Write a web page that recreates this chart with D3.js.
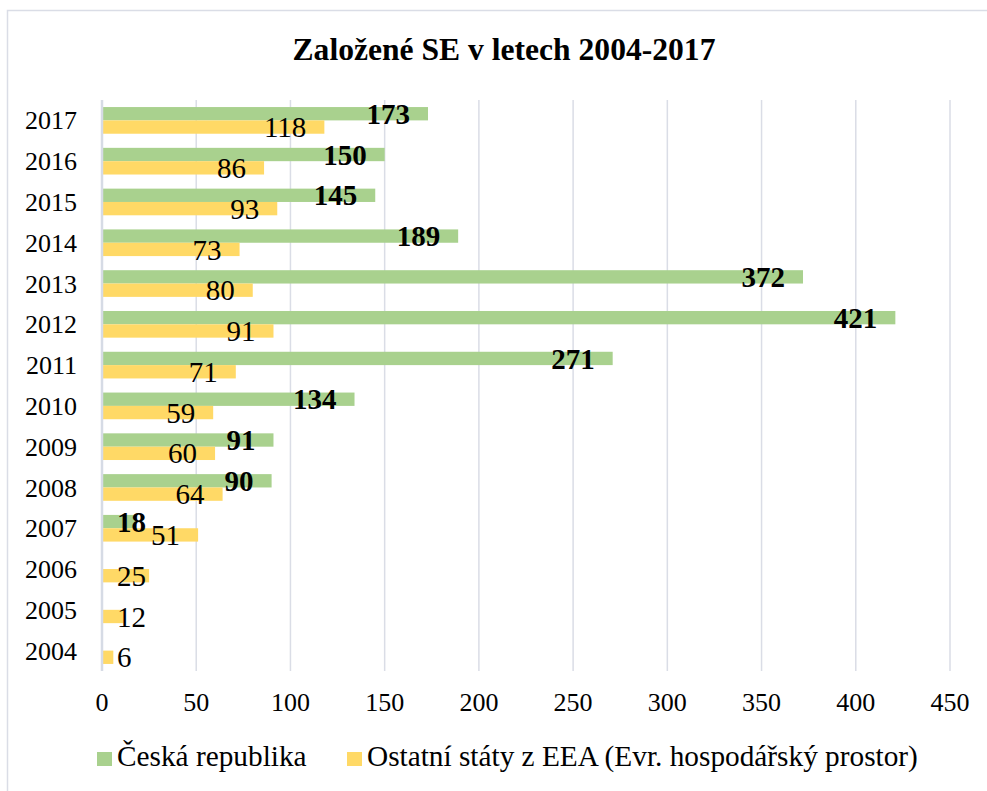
<!DOCTYPE html>
<html>
<head>
<meta charset="utf-8">
<script src="https://cdn.jsdelivr.net/npm/d3@7"></script>
<style>
  body { margin: 0; background: #fff; }
  svg { display: block; font-family: "Liberation Serif", "Times New Roman", serif; }
</style>
</head>
<body>
<div id="chart"></div>
<script>
// data
const years = [2004, 2005, 2006, 2007, 2008, 2009, 2010, 2011, 2012, 2013, 2014, 2015, 2016, 2017];
const czech = [null, null, null, 18, 90, 91, 134, 271, 421, 372, 189, 145, 150, 173];
const eea = [6, 12, 25, 51, 64, 60, 59, 71, 91, 80, 73, 93, 86, 118];
const xTicks = [0, 50, 100, 150, 200, 250, 300, 350, 400, 450];
const seriesNames = ["Česká republika", "Ostatní státy z EEA (Evr. hospodářský prostor)"];
const colors = ["#a9d18e", "#ffd966"];

const width = 987, height = 791;
const margin = { top: 100, right: 37, bottom: 120, left: 102 };

const svg = d3.select("#chart").append("svg")
  .attr("width", width)
  .attr("height", height);

// chart frame
svg.append("rect")
  .attr("x", 7.5).attr("y", 10.5)
  .attr("width", width + 20).attr("height", height + 20)
  .attr("fill", "#fff")
  .attr("stroke", "#dadde6")
  .attr("stroke-width", 1.5);

// title
svg.append("text")
  .attr("x", 504).attr("y", 60)
  .attr("text-anchor", "middle")
  .style("font-size", "31.6px")
  .style("font-weight", "bold")
  .text("Založené SE v letech 2004-2017");

const x = d3.scaleLinear()
  .domain([0, 450])
  .range([margin.left, width - margin.right]);

// 2017 nahoře
const y = d3.scaleBand()
  .domain(years.slice().reverse())
  .range([margin.top, height - margin.bottom])
  .paddingInner(0.346)
  .paddingOuter(0.173);

const sub = d3.scaleBand()
  .domain([0, 1])
  .range([0, y.bandwidth()]);

// grid lines
svg.append("g")
  .selectAll("line")
  .data(xTicks.slice(1))
  .join("line")
  .attr("x1", d => x(d)).attr("x2", d => x(d))
  .attr("y1", margin.top).attr("y2", height - margin.bottom)
  .attr("stroke", "#dadde6")
  .attr("stroke-width", 1.5);

// x tick labels
svg.append("g")
  .selectAll("text")
  .data(xTicks)
  .join("text")
  .attr("x", d => x(d))
  .attr("y", height - margin.bottom + 40)
  .attr("text-anchor", "middle")
  .style("font-size", "26px")
  .text(d => d);

const rows = years.map((yr, i) => ({ year: yr, values: [czech[i], eea[i]] }));

const groups = svg.append("g")
  .selectAll("g")
  .data(rows)
  .join("g")
  .attr("transform", d => `translate(0,${y(d.year)})`);

groups.selectAll("rect")
  .data(d => d.values.map((v, s) => ({ v, s })).filter(d => d.v != null))
  .join("rect")
  .attr("x", x(0))
  .attr("y", d => sub(d.s))
  .attr("width", d => x(d.v) - x(0))
  .attr("height", sub.bandwidth())
  .attr("fill", d => colors[d.s]);

// vertical axis line
svg.append("line")
  .attr("x1", x(0)).attr("x2", x(0))
  .attr("y1", margin.top).attr("y2", height - margin.bottom)
  .attr("stroke", "#d6dbe5")
  .attr("stroke-width", 2.5);

// data labels, right edge a bit inside the bar end, never left of minX
const minX = x(0) + 15;
groups.selectAll("text.val")
  .data(d => d.values.map((v, s) => ({ v, s })).filter(d => d.v != null))
  .join("text")
  .attr("class", "val")
  .attr("y", d => sub(d.s) + sub.bandwidth() / 2)
  .attr("dy", "0.35em")
  .style("font-size", "29px")
  .style("font-weight", d => d.s === 0 ? "bold" : "normal")
  .text(d => d.v)
  .attr("x", function (d) {
    const w = this.getComputedTextLength();
    return Math.max(x(d.v) - 18 - w, minX);
  });

// year labels
svg.append("g")
  .selectAll("text")
  .data(years)
  .join("text")
  .attr("x", x(0) - 25)
  .attr("y", d => y(d) + y.bandwidth() / 2)
  .attr("dy", "0.35em")
  .attr("text-anchor", "end")
  .style("font-size", "26px")
  .text(d => d);

// legend
const legendX = [97, 347];
const legend = svg.append("g")
  .selectAll("g")
  .data(seriesNames)
  .join("g")
  .attr("transform", (d, i) => `translate(${legendX[i]},752)`);

legend.append("rect")
  .attr("width", 15).attr("height", 14)
  .attr("fill", (d, i) => colors[i]);

legend.append("text")
  .attr("x", 20).attr("y", 14)
  .style("font-size", "29.3px")
  .text(d => d);
</script>
</body>
</html>
